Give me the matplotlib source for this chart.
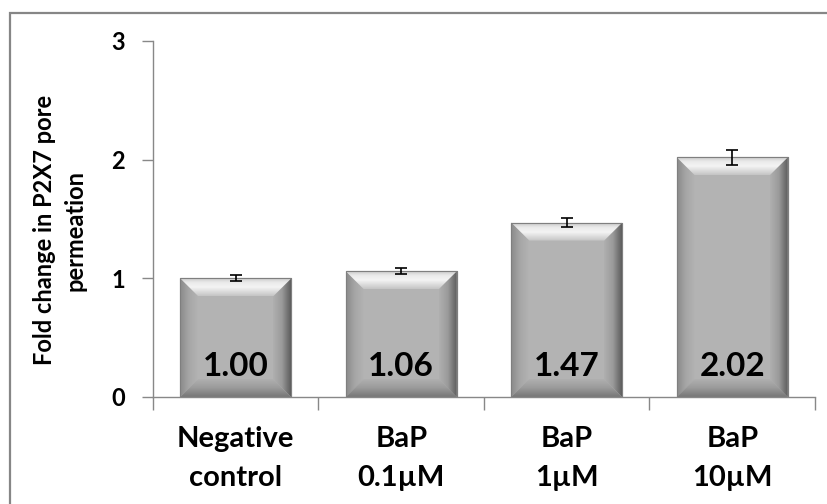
import numpy as np
import matplotlib
matplotlib.use("Agg")
import matplotlib.pyplot as plt
from matplotlib.patches import Polygon, Rectangle
from matplotlib.colors import LinearSegmentedColormap

categories = ["Negative\ncontrol", "BaP\n0.1µM", "BaP\n1µM", "BaP\n10µM"]
fold_change = [1.00, 1.06, 1.47, 2.02]
errors = [0.025, 0.025, 0.04, 0.063]
yticks = [0, 1, 2, 3]

plt.rcParams['font.family'] = ['Lato', 'DejaVu Sans']

fig = plt.figure(figsize=(8.28, 5.04), dpi=100)
ax = fig.add_axes([153 / 828, 107 / 504, 662 / 828, 356 / 504])

# outer chart frame
fig.patches.append(Rectangle((10 / 828, -0.1), 1.2, 1.1 - 13 / 504,
                             transform=fig.transFigure, fill=False,
                             edgecolor='#868686', linewidth=1.6))

x = np.arange(len(categories))
width = 0.67
ax.set_xlim(-0.5, len(categories) - 0.5)
ax.set_ylim(0, 3)

bars = ax.bar(x, fold_change, width=width, color='#b3b3b3',
              edgecolor='#7f7f7f', linewidth=0.8, zorder=2)

# bevel size in pixels -> data units
px_x = len(categories) / 662
px_y = 3 / 356
bev = 18
bx, by = bev * px_x, bev * px_y


def grad_poly(verts, colors, horizontal, extent):
    poly = Polygon(verts, closed=True, facecolor='none', edgecolor='none',
                   transform=ax.transData)
    ax.add_patch(poly)
    cmap = LinearSegmentedColormap.from_list('g', colors)
    g = np.linspace(0, 1, 256)
    img = g[None, :] if horizontal else g[:, None]
    im = ax.imshow(img, cmap=cmap, extent=extent, origin='lower',
                   aspect='auto', interpolation='bilinear', zorder=2.5)
    im.set_clip_path(poly)


for b in bars:
    x0 = b.get_x()
    x1 = x0 + b.get_width()
    y0 = 0
    y1 = b.get_height()
    # left side
    grad_poly([(x0, y0), (x0 + bx, y0 + by), (x0 + bx, y1 - by), (x0, y1)],
              ['#8a8a8a', '#a6a6a6', '#b3b3b3'], True, (x0, x0 + bx, y0, y1))
    # right side
    grad_poly([(x1, y0), (x1 - bx, y0 + by), (x1 - bx, y1 - by), (x1, y1)],
              ['#b0b0b0', '#9a9a9a', '#5c5c5c'], True, (x1 - bx, x1, y0, y1))
    # bottom
    grad_poly([(x0, y0), (x1, y0), (x1 - bx, y0 + by), (x0 + bx, y0 + by)],
              ['#767676', '#9a9a9a', '#b0b0b0'], False, (x0, x1, y0, y0 + by))
    # top highlight
    grad_poly([(x0, y1), (x1, y1), (x1 - bx, y1 - by), (x0 + bx, y1 - by)],
              ['#c4c4c4', '#dcdcdc', '#f4f4f4', '#ebebeb', '#c8c8c8'], False,
              (x0, x1, y1 - by, y1))
    ax.add_patch(Rectangle((x0, y0), x1 - x0, y1, fill=False,
                           edgecolor='#7f7f7f', linewidth=0.8, zorder=3))

ax.errorbar(x, fold_change, yerr=errors, fmt='none', ecolor='black',
            elinewidth=1.2, capsize=4.5, capthick=1.2, zorder=4)

for xi, v in zip(x, fold_change):
    ax.text(xi, 0.26, f"{v:.2f}", ha='center', va='center',
            fontsize=24, fontweight='bold', color='black', zorder=5)

ax.set_xlim(-0.5, len(categories) - 0.5)
ax.set_ylim(0, 3)

ax.set_yticks(yticks)
ax.set_yticklabels([str(t) for t in yticks], fontsize=17, fontweight='bold')
ax.set_xticks(np.arange(len(categories) + 1) - 0.5, minor=False)
ax.set_xticklabels([])
ax.set_xticks(x, minor=True)
ax.set_xticklabels(categories, minor=True, fontsize=21, fontweight='bold',
                   linespacing=1.6)
ax.tick_params(axis='x', which='minor', length=0, pad=21)
ax.tick_params(axis='x', which='major', length=9, color='#888888', width=1)
ax.tick_params(axis='y', length=8, color='#888888', width=1, pad=12)

for s in ['top', 'right']:
    ax.spines[s].set_visible(False)
for s in ['left', 'bottom']:
    ax.spines[s].set_color('#888888')
    ax.spines[s].set_linewidth(1)

ax.set_ylabel("Fold change in P2X7 pore\npermeation", fontsize=17,
              fontweight='bold', linespacing=1.4)
ax.yaxis.set_label_coords(-0.101, 0.469)

fig.savefig("out.png", dpi=100)
